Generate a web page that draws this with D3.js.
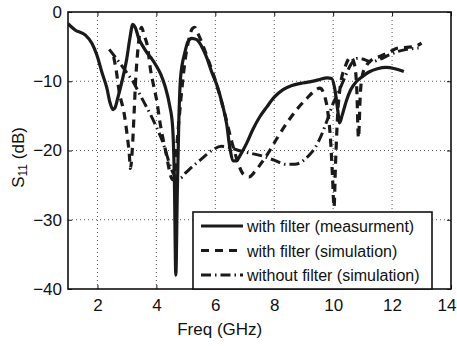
<!DOCTYPE html>
<html>
<head>
<meta charset="utf-8">
<script src="https://cdn.jsdelivr.net/npm/d3@7"></script>
<style>
  body { margin: 0; background: #fff; }
  svg { display: block; font-family: "Liberation Sans", Arial, sans-serif; }
</style>
</head>
<body>
<div id="chart"></div>
<script>
// with filter (measurment)
const measFreq = [1.0, 1.24, 1.58, 1.81, 1.98, 2.15, 2.32, 2.42, 2.53, 2.6, 2.69, 2.86, 3.0, 3.1, 3.2, 3.28, 3.4, 3.55, 3.7, 3.85, 4.0, 4.15, 4.3, 4.45, 4.55, 4.61, 4.66, 4.71, 4.76, 4.82, 4.97, 5.07, 5.2, 5.37, 5.54, 5.71, 5.88, 6.05, 6.22, 6.39, 6.49, 6.62, 6.72, 6.83, 7.07, 7.27, 7.5, 7.75, 8.0, 8.3, 8.6, 8.9, 9.2, 9.5, 9.8, 9.95, 10.05, 10.15, 10.22, 10.3, 10.45, 10.6, 10.8, 11.0, 11.2, 11.5, 11.8, 12.1, 12.4];
const measS11 = [-1.7, -2.6, -3.3, -4.5, -6.2, -8.7, -11.0, -13.0, -14.1, -13.8, -12.4, -9.5, -6.6, -3.8, -1.8, -2.2, -3.8, -5.0, -6.0, -6.8, -7.8, -9.0, -10.8, -13.5, -16.5, -24, -38, -26, -16, -9.5, -5.8, -4.3, -3.8, -4.0, -5.0, -6.6, -8.7, -10.5, -13.0, -16.3, -19.5, -21.5, -21.5, -20.8, -18.9, -17.0, -15.2, -13.7, -12.3, -11.2, -10.6, -10.3, -10.1, -9.8, -9.5, -9.6, -11.0, -14.0, -16.0, -15.0, -12.8, -11.2, -10.0, -9.3, -8.7, -8.2, -8.0, -8.2, -8.6];

// with filter (simulation)
const simFreq = [2.55, 2.62, 2.75, 2.9, 3.0, 3.08, 3.12, 3.18, 3.25, 3.3, 3.35, 3.42, 3.5, 3.58, 3.7, 3.8, 3.9, 4.02, 4.12, 4.22, 4.32, 4.4, 4.48, 4.56, 4.63, 4.7, 4.78, 4.88, 4.98, 5.1, 5.22, 5.3, 5.4, 5.55, 5.75, 5.95, 6.15, 6.35, 6.55, 6.75, 6.95, 7.15, 7.35, 7.6, 7.85, 8.1, 8.45, 8.8, 9.1, 9.4, 9.55, 9.7, 9.82, 9.92, 9.98, 10.03, 10.08, 10.15, 10.25, 10.4, 10.6, 10.72, 10.8, 10.86, 10.92, 11.0, 11.15, 11.35, 11.6, 11.9, 12.2, 12.5, 12.75, 13.0];
const simS11 = [-6.5, -8.0, -11.8, -14.5, -17.5, -20.5, -22.6, -20, -14, -9.5, -6.5, -3.5, -2.2, -3.3, -5.0, -8.3, -10.5, -13.0, -15.9, -18.2, -20.2, -22.0, -23.6, -24.2, -23.0, -19.0, -15.0, -10.5, -6.8, -4.0, -2.4, -2.2, -3.0, -4.5, -6.8, -9.2, -12.0, -15.2, -18.6, -21.5, -23.4, -23.8, -23.0, -21.6, -20.0, -18.2, -15.9, -13.9, -12.5, -11.3, -11.0, -12.0, -14.5, -19.0, -24.0, -28.2, -22.0, -15.0, -10.5, -8.0, -6.5, -7.5, -11.0, -18.2, -12.0, -9.0, -7.6, -6.8, -6.4, -5.8, -5.2, -5.1, -5.0, -4.5];

// without filter (simulation)
const noFiltFreq = [2.4, 2.6, 2.8, 3.0, 3.2, 3.4, 3.6, 3.8, 4.0, 4.2, 4.35, 4.5, 4.65, 4.8, 5.0, 5.2, 5.45, 5.7, 5.95, 6.2, 6.5, 6.8, 7.2, 7.6, 8.0, 8.4, 8.7, 9.0, 9.2, 9.4, 9.6, 9.8, 10.0, 10.2, 10.4, 10.6, 10.8, 11.0, 11.3, 11.6, 11.9, 12.2, 12.5, 12.9];
const noFiltS11 = [-5.4, -6.5, -7.6, -8.8, -10.0, -11.6, -13.2, -14.8, -16.6, -18.6, -20.6, -22.6, -23.8, -24.0, -23.2, -22.4, -21.5, -20.6, -19.8, -19.4, -19.6, -20.0, -20.4, -20.8, -21.4, -22.0, -22.0, -21.4, -20.6, -19.5, -17.8, -15.6, -13.2, -11.4, -9.4, -7.6, -6.7, -6.8, -7.2, -6.8, -6.2, -5.7, -5.4, -5.2];

const xTicks = [2, 4, 6, 8, 10, 12, 14];
const yTicks = [0, -10, -20, -30, -40];
const legendLabels = ["with filter (measurment)", "with filter (simulation)", "without filter (simulation)"];

const W = 457, H = 346;
const margin = { top: 12, right: 6, bottom: 57, left: 68 };
const width = W - margin.left - margin.right;
const height = H - margin.top - margin.bottom;

const svg = d3.select("#chart").append("svg")
  .attr("width", W)
  .attr("height", H);

const x = d3.scaleLinear().domain([1, 14]).range([0, width]);
const y = d3.scaleLinear().domain([-40, 0]).range([height, 0]);

svg.append("defs").append("clipPath")
  .attr("id", "clip")
  .append("rect")
  .attr("width", width)
  .attr("height", height);

const g = svg.append("g").attr("transform", `translate(${margin.left},${margin.top})`);

// grid
g.append("g").selectAll("line")
  .data(xTicks.filter(t => t < 14))
  .join("line")
  .attr("x1", d => x(d)).attr("x2", d => x(d))
  .attr("y1", 0).attr("y2", height)
  .attr("stroke", "#555").attr("stroke-width", 1).attr("stroke-dasharray", "1,3");
g.append("g").selectAll("line")
  .data(yTicks.filter(t => t > -40 && t < 0))
  .join("line")
  .attr("x1", 0).attr("x2", width)
  .attr("y1", d => y(d)).attr("y2", d => y(d))
  .attr("stroke", "#555").attr("stroke-width", 1).attr("stroke-dasharray", "1,3");

// curves
const line = d3.line()
  .x(d => x(d[0]))
  .y(d => y(d[1]))
  .curve(d3.curveMonotoneX);

const series = [
  { f: measFreq, v: measS11, dash: null, w: 3.2 },
  { f: simFreq, v: simS11, dash: "8,6", w: 3.2 },
  { f: noFiltFreq, v: noFiltS11, dash: "10,4,1.5,4", w: 3 }
];

const plot = g.append("g").attr("clip-path", "url(#clip)");
series.forEach(s => {
  plot.append("path")
    .datum(s.f.map((f, i) => [f, s.v[i]]))
    .attr("fill", "none")
    .attr("stroke", "#1a1a1a")
    .attr("stroke-width", s.w)
    .attr("stroke-linejoin", "round")
    .attr("stroke-dasharray", s.dash)
    .attr("d", line);
});

// axes
const xAxis = g.append("g")
  .attr("transform", `translate(0,${height})`)
  .call(d3.axisBottom(x).tickValues(xTicks).tickSize(-4).tickPadding(10));
const yAxis = g.append("g")
  .call(d3.axisLeft(y).tickValues(yTicks).tickSize(-4).tickPadding(6).tickFormat(d3.format("d")));
g.append("g")
  .call(d3.axisTop(x).tickValues(xTicks).tickSize(-4).tickFormat(""));
g.append("g")
  .attr("transform", `translate(${width},0)`)
  .call(d3.axisRight(y).tickValues(yTicks).tickSize(-4).tickFormat(""));

g.selectAll(".domain").attr("stroke", "none");
g.selectAll(".tick line").attr("stroke", "#111").attr("stroke-width", 1);
g.selectAll(".tick text")
  .attr("font-size", 17)
  .attr("font-family", "Liberation Sans, Arial, sans-serif")
  .attr("fill", "#111");
xAxis.selectAll(".tick text").attr("dy", "0.71em");
// last label sits at the window edge; keep it inside
xAxis.selectAll(".tick text").filter(d => d === 14)
  .attr("text-anchor", "end").attr("x", W - margin.left - width - 1);

// frame
g.append("rect")
  .attr("width", width).attr("height", height)
  .attr("fill", "none").attr("stroke", "#111").attr("stroke-width", 1.6);

// axis labels
svg.append("text")
  .attr("x", margin.left + x(6.15))
  .attr("y", 335)
  .attr("text-anchor", "middle")
  .attr("font-size", 17)
  .attr("fill", "#111")
  .text("Freq (GHz)");

const yl = svg.append("text")
  .attr("transform", `translate(24,${margin.top + y(-21)}) rotate(-90)`)
  .attr("text-anchor", "middle")
  .attr("font-size", 17)
  .attr("fill", "#111");
yl.append("tspan").text("S");
yl.append("tspan").attr("font-size", 12).attr("dy", 3).text("11");
yl.append("tspan").attr("dy", -3).text(" (dB)");

// legend
const lg = svg.append("g").attr("transform", `translate(193,212)`);
lg.append("rect")
  .attr("width", 239).attr("height", 77)
  .attr("fill", "#fff").attr("stroke", "#111").attr("stroke-width", 1.6);
legendLabels.forEach((label, i) => {
  const cy = 14 + i * 24.5;
  lg.append("line")
    .attr("x1", 8).attr("x2", 50)
    .attr("y1", cy).attr("y2", cy)
    .attr("stroke", "#1a1a1a")
    .attr("stroke-width", series[i].w)
    .attr("stroke-dasharray", series[i].dash);
  lg.append("text")
    .attr("x", 54).attr("y", cy + 6)
    .attr("font-size", 16)
    .attr("fill", "#111")
    .text(label);
});
</script>
</body>
</html>
